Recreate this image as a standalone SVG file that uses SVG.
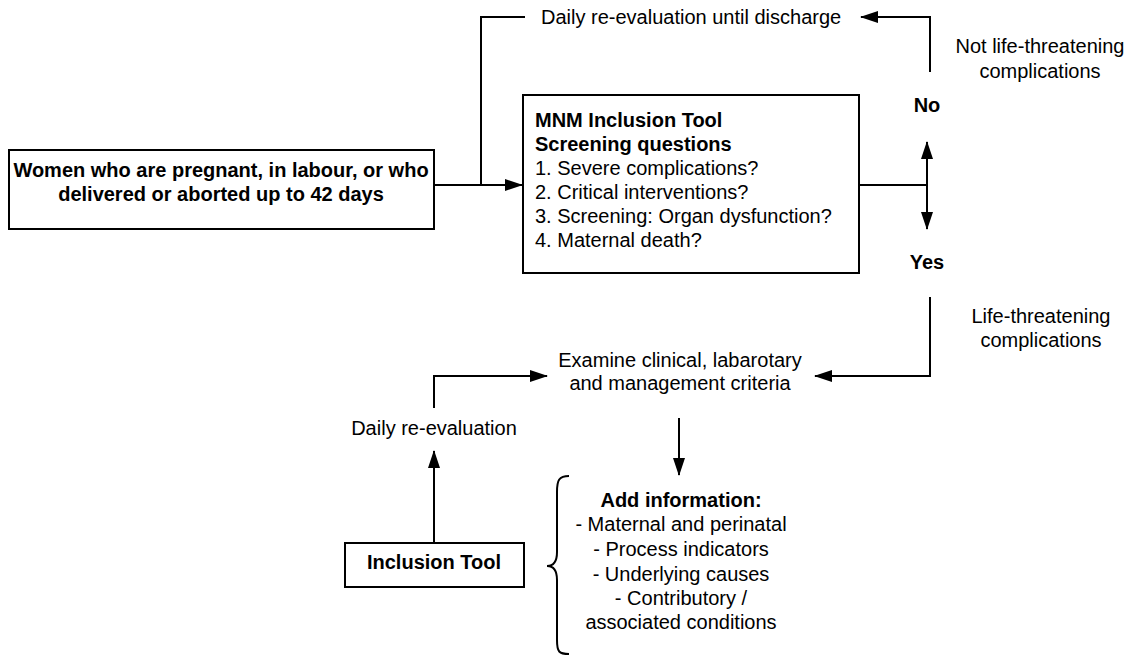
<svg xmlns="http://www.w3.org/2000/svg" width="1134" height="655" viewBox="0 0 1134 655">
<defs>
<style>
text{font-family:"Liberation Sans",Arial,sans-serif;font-size:20px;fill:#000}
.b{font-weight:bold}
.c{text-anchor:middle}
.box{fill:#fff;stroke:#000;stroke-width:2}
.ln{fill:none;stroke:#000;stroke-width:2}
</style>
<marker id="ah" viewBox="0 0 18 12" refX="17" refY="6" markerWidth="18" markerHeight="12" markerUnits="userSpaceOnUse" orient="auto">
<path d="M0,0 L18,6 L0,12 Z" fill="#000"/>
</marker>
</defs>
<rect width="1134" height="655" fill="#fff"/>
<g id="connectors">
<path class="ln" d="M434,185 H522" marker-end="url(#ah)"/>
<path class="ln" d="M481,185 V17 H525"/>
<path class="ln" d="M930,72 V17 H861" marker-end="url(#ah)"/>
<path class="ln" d="M859,185 H927"/>
<path class="ln" d="M927,185 V142" marker-end="url(#ah)"/>
<path class="ln" d="M927,185 V229" marker-end="url(#ah)"/>
<path class="ln" d="M930,297 V376 H815" marker-end="url(#ah)"/>
<path class="ln" d="M434,408 V376 H547" marker-end="url(#ah)"/>
<path class="ln" d="M434,542 V451" marker-end="url(#ah)"/>
<path class="ln" d="M679,418 V475" marker-end="url(#ah)"/>
<path class="ln" d="M569,476 C559,476 557,480 557,492 V552 C557,562 553,566 547,566 C553,566 557,570 557,580 V640 C557,652 559,654 569,654"/>
</g>
<g id="women">
<rect class="box" x="9" y="150" width="425" height="79"/>
<text class="b c" x="221" y="177">Women who are pregnant, in labour, or who</text>
<text class="b c" x="221" y="201">delivered or aborted up to 42 days</text>
</g>
<g id="mnm">
<rect class="box" x="523" y="95" width="336" height="178"/>
<text class="b" x="535" y="127">MNM Inclusion Tool</text>
<text class="b" x="535" y="151">Screening questions</text>
<text x="535" y="175">1. Severe complications?</text>
<text x="535" y="199">2. Critical interventions?</text>
<text x="535" y="223">3. Screening: Organ dysfunction?</text>
<text x="535" y="247">4. Maternal death?</text>
</g>
<g id="daily-discharge">
<text x="541" y="24">Daily re-evaluation until discharge</text>
</g>
<g id="not-life">
<text class="c" x="1040" y="53">Not life-threatening</text>
<text class="c" x="1040" y="78">complications</text>
</g>
<g id="no"><text class="b c" x="927" y="112">No</text></g>
<g id="yes"><text class="b c" x="927" y="269">Yes</text></g>
<g id="life">
<text class="c" x="1041" y="323">Life-threatening</text>
<text class="c" x="1041" y="347">complications</text>
</g>
<g id="examine">
<text class="c" x="680" y="367">Examine clinical, labarotary</text>
<text class="c" x="680" y="390">and management criteria</text>
</g>
<g id="daily">
<text class="c" x="434" y="435">Daily re-evaluation</text>
</g>
<g id="inclusion">
<rect class="box" x="345" y="543" width="179" height="44"/>
<text class="b c" x="434" y="569">Inclusion Tool</text>
</g>
<g id="addinfo">
<text class="b c" x="681" y="507">Add information:</text>
<text class="c" x="681" y="531">- Maternal and perinatal</text>
<text class="c" x="681" y="556">- Process indicators</text>
<text class="c" x="681" y="581">- Underlying causes</text>
<text class="c" x="681" y="605">- Contributory /</text>
<text class="c" x="681" y="629">associated conditions</text>
</g>
</svg>
